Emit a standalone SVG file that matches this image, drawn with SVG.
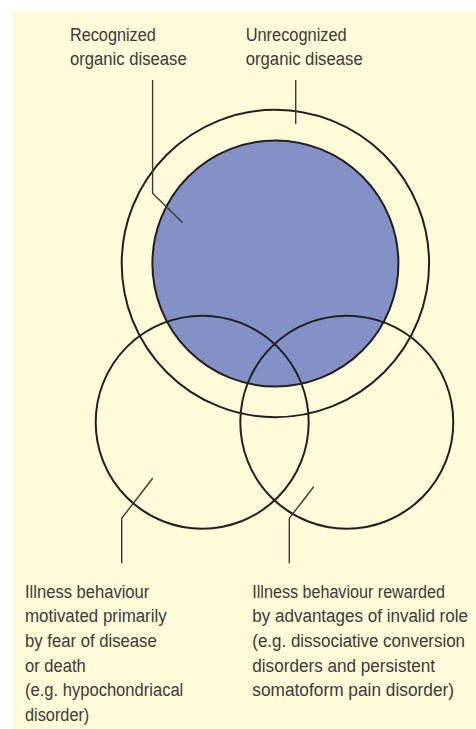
<svg xmlns="http://www.w3.org/2000/svg" width="476" height="729" viewBox="0 0 476 729">
<style>
.c{fill:none;stroke:#231f20;stroke-width:2}
.l{fill:none;stroke:#3a3a3a;stroke-width:1.4}
text{font-family:"Liberation Sans Narrow","Liberation Sans",Arial,sans-serif;font-size:17px;fill:#3a3a3a}
</style>
<rect x="0" y="0" width="476" height="729" fill="#ffffff"/>
<rect x="13" y="11" width="463" height="718" fill="#fffad7"/>
<g id="unrecognized">
<circle class="c" cx="275.4" cy="263.5" r="153.7"/>
</g>
<g id="recognized">
<circle cx="275.4" cy="263.5" r="123" fill="#8391c7" stroke="#231f20" stroke-width="2"/>
</g>
<g id="fear">
<circle class="c" cx="202.2" cy="422.2" r="106.5"/>
</g>
<g id="rewarded">
<circle class="c" cx="346.8" cy="422.2" r="106.5"/>
</g>
<g id="connectors">
<polyline class="l" points="152.6,80 152.6,193.3 182.7,222.7"/>
<polyline class="l" points="295.7,80 295.7,124"/>
<polyline class="l" points="152.7,478.3 121.7,518.3 121.7,563.3"/>
<polyline class="l" points="313.7,486.7 289.3,518.3 289.3,563.3"/>
</g>
<g id="labels">
<text transform="translate(70 41) scale(1 1.12)" textLength="85.7" lengthAdjust="spacingAndGlyphs">Recognized</text>
<text transform="translate(70 64.5) scale(1 1.12)" textLength="116.7" lengthAdjust="spacingAndGlyphs">organic disease</text>
<text transform="translate(245.7 41) scale(1 1.12)" textLength="101" lengthAdjust="spacingAndGlyphs">Unrecognized</text>
<text transform="translate(245.7 64.5) scale(1 1.12)" textLength="117" lengthAdjust="spacingAndGlyphs">organic disease</text>
<text transform="translate(25 597.5) scale(1 1.12)" textLength="124.3" lengthAdjust="spacingAndGlyphs">Illness behaviour</text>
<text transform="translate(25 622.2) scale(1 1.12)" textLength="141.7" lengthAdjust="spacingAndGlyphs">motivated primarily</text>
<text transform="translate(25 646.9) scale(1 1.12)" textLength="131.7" lengthAdjust="spacingAndGlyphs">by fear of disease</text>
<text transform="translate(25 671.6) scale(1 1.12)" textLength="60.7" lengthAdjust="spacingAndGlyphs">or death</text>
<text transform="translate(25 696.3) scale(1 1.12)" textLength="158.3" lengthAdjust="spacingAndGlyphs">(e.g. hypochondriacal</text>
<text transform="translate(25 721) scale(1 1.12)" textLength="64.3" lengthAdjust="spacingAndGlyphs">disorder)</text>
<text transform="translate(252.3 597.5) scale(1 1.12)" textLength="192.7" lengthAdjust="spacingAndGlyphs">Illness behaviour rewarded</text>
<text transform="translate(252.3 622.2) scale(1 1.12)" textLength="215.7" lengthAdjust="spacingAndGlyphs">by advantages of invalid role</text>
<text transform="translate(252.3 646.9) scale(1 1.12)" textLength="212.7" lengthAdjust="spacingAndGlyphs">(e.g. dissociative conversion</text>
<text transform="translate(252.3 671.6) scale(1 1.12)" textLength="182.7" lengthAdjust="spacingAndGlyphs">disorders and persistent</text>
<text transform="translate(252.3 696.3) scale(1 1.12)" textLength="201.7" lengthAdjust="spacingAndGlyphs">somatoform pain disorder)</text>
</g>
</svg>
